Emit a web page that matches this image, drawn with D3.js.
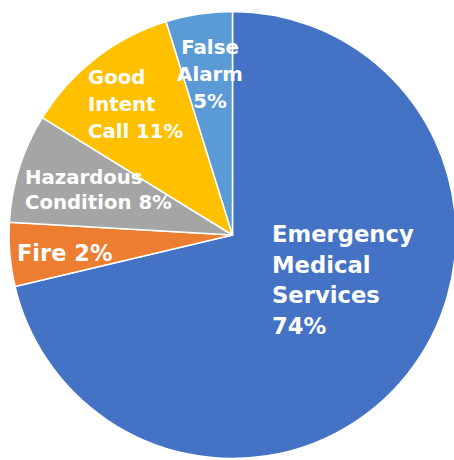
<!DOCTYPE html>
<html lang="en">
<head>
    <meta charset="UTF-8">
    <title>Incident Types Pie Chart</title>
    <script src="https://d3js.org/d3.v7.min.js"></script>
    <style>
        html, body { margin: 0; padding: 0; background: #fff; overflow: hidden; }
    </style>
</head>
<body>
    <svg id="pie-chart"></svg>
    <script>
        // slice shares as drawn (degrees, in %)
        const categories = ["Emergency Medical Services", "Fire", "Hazardous Condition", "Good Intent Call", "False Alarm"];
        const shares = [71.3, 4.6, 7.9, 11.4, 4.8];
        // printed labels
        const labelLines = [
            ["Emergency", "Medical", "Services", "74%"],
            ["Fire 2%"],
            ["Hazardous", "Condition 8%"],
            ["Good", "Intent", "Call 11%"],
            ["False", "Alarm", "5%"]
        ];
        const colors = ["#4472C4", "#ED7D31", "#A5A5A5", "#FFC000", "#5B9BD5"];

        // label placement relative to pie centre
        const labelLayout = [
            { dx: 39.5, dy: 7, anchor: "start", size: 22.7, lh: 30.7 },
            { dx: -215.5, dy: 26, anchor: "start", size: 22.5, lh: 27 },
            { dx: -207.5, dy: -51, anchor: "start", size: 19.7, lh: 25 },
            { dx: -144.5, dy: -151, anchor: "start", size: 19.7, lh: 27 },
            { dx: -22.5, dy: -181, anchor: "middle", size: 19.8, lh: 27 }
        ];

        const width = 454, height = 460;
        const cx = 232.5, cy = 235, radius = 223.5;

        const svg = d3.select("#pie-chart").attr("width", width).attr("height", height);
        const g = svg.append("g").attr("transform", `translate(${cx},${cy})`);

        const data = categories.map((c, i) => ({ name: c, value: shares[i], lines: labelLines[i] }));

        const pie = d3.pie().value(d => d.value).sort(null);
        const arc = d3.arc().innerRadius(0).outerRadius(radius);

        g.selectAll("path")
            .data(pie(data))
            .enter().append("path")
            .attr("d", arc)
            .attr("fill", (d, i) => colors[i])
            .attr("stroke", "#fff").attr("stroke-width", 1.5)
            .attr("stroke-linejoin", "round");

        const labels = g.selectAll("text.lbl")
            .data(data)
            .enter().append("text")
            .attr("class", "lbl")
            .attr("font-family", "'DejaVu Sans', sans-serif")
            .attr("font-weight", "bold")
            .attr("fill", "#fff")
            .attr("font-size", (d, i) => labelLayout[i].size)
            .attr("text-anchor", (d, i) => labelLayout[i].anchor);

        labels.each(function(d, i) {
            const l = labelLayout[i];
            d3.select(this).selectAll("tspan")
                .data(d.lines)
                .enter().append("tspan")
                .attr("x", l.dx)
                .attr("y", (t, j) => l.dy + j * l.lh)
                .text(t => t);
        });
    </script>
</body>
</html>
